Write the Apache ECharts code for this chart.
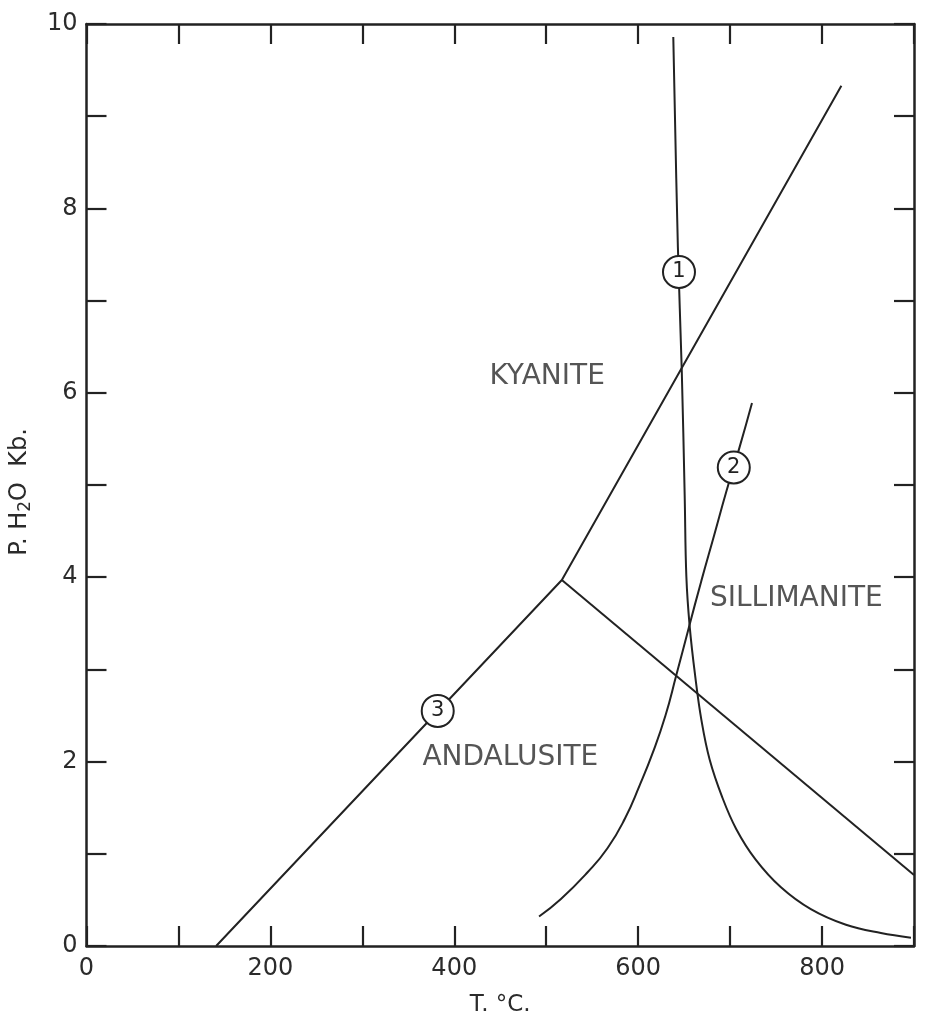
<!DOCTYPE html>
<html>
<head>
<meta charset="utf-8">
<script src="https://cdn.jsdelivr.net/npm/echarts@6/dist/echarts.min.js"></script>
<style>
html,body{margin:0;padding:0;background:#fff;}
#chart{width:925px;height:1022px;}
</style>
</head>
<body>
<div id="chart"></div>
<script>
// ---- data (T in °C, P in kb) ----
const xTicks = [0, 200, 400, 600, 800];
const yTicks = [0, 2, 4, 6, 8, 10];

// curve 1 (steep, then bending to high T)
const curve1T = [638.2, 643.2, 647.4, 650.6, 652.4, 656, 662, 668.8, 677.8, 691.2, 706.6, 727.6, 755, 787.8, 826, 864, 896.7];
const curve1P = [9.86, 7.58, 6.25, 4.88, 4.01, 3.47, 2.93, 2.45, 2.02, 1.62, 1.27, 0.94, 0.64, 0.40, 0.23, 0.14, 0.09];

// curve 2
const curve2T = [492.2, 516, 545, 566.6, 585.5, 601.5, 616, 629.7, 641.3, 655, 668.7, 682.5, 696.2, 710, 723.8];
const curve2P = [0.32, 0.51, 0.80, 1.06, 1.38, 1.74, 2.10, 2.50, 2.93, 3.45, 3.96, 4.45, 4.94, 5.40, 5.89];

// curve 3 : andalusite/kyanite + kyanite/sillimanite
const curve3T = [141, 517, 821];
const curve3P = [0, 3.97, 9.33];

// andalusite/sillimanite
const curve4T = [517, 900];
const curve4P = [3.97, 0.77];

// circled curve numbers
const markNum = ['1', '2', '3'];
const markT = [644.4, 704, 382];
const markP = [7.31, 5.19, 2.55];

// field names
const fieldNames = ['KYANITE', 'SILLIMANITE', 'ANDALUSITE'];
const fieldT = [501, 772, 461];
const fieldP = [6.17, 3.77, 2.04];

const zip = (a, b) => a.map((v, i) => [v, b[i]]);
const FONT = 'DejaVu Sans';
const INK = '#222';
const TXT = '#2b2b2b';

const chart = echarts.init(document.getElementById('chart'));
const lineStyle = {color: INK, width: 2};
const axisCommon = {
  min: 0,
  axisLine: {show: true, onZero: false, lineStyle: {color: INK, width: 2.5}},
  axisTick: {show: true, inside: true, length: 20, lineStyle: {color: INK, width: 2.2}},
  splitLine: {show: false}
};

chart.setOption({
  backgroundColor: '#fff',
  animation: false,
  grid: {left: 84, right: 11, top: 24, bottom: 74},
  xAxis: [
    Object.assign({}, axisCommon, {
      type: 'value', position: 'bottom', max: 900, interval: 100,
      axisLabel: {
        show: true, margin: 11, color: TXT, fontFamily: FONT, fontSize: 24,
        formatter: v => xTicks.indexOf(v) >= 0 ? String(v) : ''
      },
      name: 'T. °C.', nameLocation: 'middle', nameGap: 48,
      nameTextStyle: {color: TXT, fontFamily: FONT, fontSize: 23}
    }),
    Object.assign({}, axisCommon, {
      type: 'value', position: 'top', max: 900, interval: 100,
      axisLabel: {show: false}
    })
  ],
  yAxis: [
    Object.assign({}, axisCommon, {
      type: 'value', position: 'left', max: 10, interval: 1,
      axisLabel: {
        show: true, margin: 9, color: TXT, fontFamily: FONT, fontSize: 24,
        formatter: v => yTicks.indexOf(v) >= 0 ? String(v) : ''
      },
      name: 'P. H{sub|2}O  Kb.', nameLocation: 'middle', nameGap: 52, nameRotate: 90,
      nameTextStyle: {
        color: TXT, fontFamily: FONT, fontSize: 24, padding: [0, 14, 0, 0],
        rich: {sub: {color: TXT, fontFamily: FONT, fontSize: 17, padding: [12, 0, 0, 0]}}
      }
    }),
    Object.assign({}, axisCommon, {
      type: 'value', position: 'right', max: 10, interval: 1,
      axisLabel: {show: false}
    })
  ],
  series: [
    {type: 'line', data: zip(curve1T, curve1P), smooth: 0.4, showSymbol: false, lineStyle: lineStyle, z: 2},
    {type: 'line', data: zip(curve2T, curve2P), smooth: 0.5, showSymbol: false, lineStyle: lineStyle, z: 2},
    {type: 'line', data: zip(curve3T, curve3P), showSymbol: false, lineStyle: lineStyle, z: 2},
    {type: 'line', data: zip(curve4T, curve4P), showSymbol: false, lineStyle: lineStyle, z: 2},
    {
      type: 'scatter', z: 5, symbol: 'circle', symbolSize: 32,
      itemStyle: {color: '#fff', borderColor: INK, borderWidth: 2, opacity: 1},
      label: {show: true, position: 'inside', color: INK, fontFamily: FONT, fontSize: 21,
              formatter: p => markNum[p.dataIndex]},
      data: zip(markT, markP)
    },
    {
      type: 'scatter', z: 4, symbolSize: 0,
      label: {show: true, position: 'inside', color: TXT, fontFamily: FONT, fontSize: 28,
              formatter: p => fieldNames[p.dataIndex]},
      data: zip(fieldT, fieldP)
    }
  ]
});
</script>
</body>
</html>
